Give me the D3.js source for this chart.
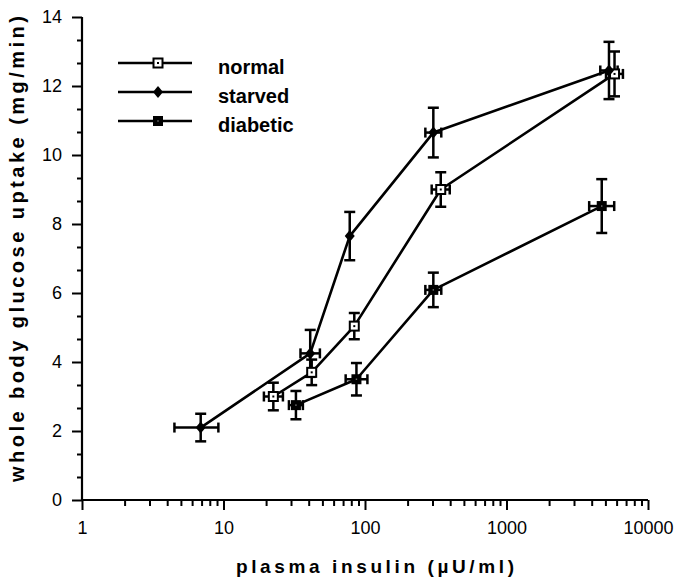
<!DOCTYPE html>
<html><head><meta charset="utf-8">
<script src="https://cdn.jsdelivr.net/npm/d3@7/dist/d3.min.js"></script>
<style>body{margin:0;background:#fff}svg{display:block}</style>
</head><body><svg id="c" width="682" height="580"></svg>
<script>
// ---- data ----
const seriesNames = ["normal", "starved", "diabetic"];
const normalX    = [22.5, 42, 84, 343, 5800];
const normalY    = [3.0, 3.7, 5.04, 9.0, 12.35];
const normalYErr = [0.4, 0.37, 0.38, 0.5, 0.65];
const normalXLo  = [19.3, 42, 84, 296, 5050];
const normalXHi  = [26.3, 42, 84, 397, 6650];

const starvedX    = [6.9, 41, 78, 304, 5300];
const starvedY    = [2.1, 4.25, 7.65, 10.65, 12.45];
const starvedYErr = [0.4, 0.68, 0.7, 0.72, 0.83];
const starvedXLo  = [4.5, 35, 78, 267, 4600];
const starvedXHi  = [9.2, 48, 78, 346, 6100];

const diabeticX    = [32.5, 87, 304, 4710];
const diabeticY    = [2.75, 3.5, 6.09, 8.52];
const diabeticYErr = [0.41, 0.47, 0.5, 0.78];
const diabeticXLo  = [29, 73, 267, 3840];
const diabeticXHi  = [36.4, 104, 346, 5770];

const xTickValues = [1, 10, 100, 1000, 10000];
const yTickValues = [0, 2, 4, 6, 8, 10, 12, 14];
const xTitle = "plasma insulin (\u00B5U/ml)";
const yTitle = "whole body glucose uptake (mg/min)";

// ---- layout ----
const svg = d3.select("#c");
const font = "'Liberation Sans', Arial, Helvetica, sans-serif";
const x = d3.scaleLog().domain([1, 10000]).range([82, 648]);
const y = d3.scaleLinear().domain([0, 14]).range([500, 17]);

function mk(xs, ys, ye, xl, xh){ return xs.map((v,i)=>({x:v,y:ys[i],ye:ye[i],xl:xl[i],xh:xh[i]})); }
const series = [
  {name:"normal", type:"open", data: mk(normalX, normalY, normalYErr, normalXLo, normalXHi)},
  {name:"starved", type:"diamond", data: mk(starvedX, starvedY, starvedYErr, starvedXLo, starvedXHi)},
  {name:"diabetic", type:"filled", data: mk(diabeticX, diabeticY, diabeticYErr, diabeticXLo, diabeticXHi)}
];

// axes
const xMinor = [];
for (let d = 1; d < 10000; d *= 10) for (let k = 2; k <= 9; k++) xMinor.push(d*k);
const xAxisMinor = d3.axisBottom(x).tickValues(xMinor).tickSize(6).tickFormat("");
const xAxis = d3.axisBottom(x).tickValues(xTickValues).tickSize(10).tickPadding(11).tickFormat(d3.format("d"));
const gx1 = svg.append("g").attr("transform","translate(0,500)").call(xAxisMinor);
const gx = svg.append("g").attr("transform","translate(0,500)").call(xAxis);
const yMinor = d3.range(0, 14.01, 2/3).filter(v => Math.abs(v/2 - Math.round(v/2)) > 0.01);
const yAxisMinor = d3.axisLeft(y).tickValues(yMinor).tickSize(5).tickFormat("");
const yAxis = d3.axisLeft(y).tickValues(yTickValues).tickSize(10).tickPadding(10).tickFormat(d3.format("d"));
const gy1 = svg.append("g").attr("transform","translate(82,0)").call(yAxisMinor);
const gy = svg.append("g").attr("transform","translate(82,0)").call(yAxis);
[gx,gx1,gy,gy1].forEach(g=>{
  g.select(".domain").attr("stroke","#000").attr("stroke-width",2.2);
  g.selectAll(".tick line").attr("stroke","#000").attr("stroke-width",2);
  g.selectAll(".tick text").attr("fill","#000").style("font-family",font).style("font-size","18px");
});
gx1.select(".domain").remove(); gy1.select(".domain").remove();
gy.select(".domain").attr("d","M0,500V17");
gx.select(".domain").attr("d","M82,0H648");

// titles
svg.append("text").attr("x",375).attr("y",573).attr("text-anchor","middle")
  .attr("textLength",278).attr("lengthAdjust","spacing")
  .style("font-family",font).style("font-size","19px").style("font-weight","bold").text(xTitle);
svg.append("text").attr("transform","translate(24,249) rotate(-90)").attr("text-anchor","middle")
  .attr("textLength",466).attr("lengthAdjust","spacing")
  .style("font-family",font).style("font-size","20px").style("font-weight","bold").text(yTitle);

// lines
const line = d3.line().x(d=>x(d.x)).y(d=>y(d.y));
const plot = svg.append("g");
series.forEach(s=>{
  plot.append("path").datum(s.data).attr("d",line).attr("fill","none")
    .attr("stroke","#000").attr("stroke-width",2.6).attr("stroke-linejoin","round");
});
// error bars
series.forEach(s=>{
  const g = plot.append("g").attr("stroke","#000").attr("stroke-width",2.5).attr("fill","none");
  s.data.forEach(d=>{
    const cx=x(d.x), t=y(d.y+d.ye), b=y(d.y-d.ye);
    g.append("line").attr("x1",cx).attr("x2",cx).attr("y1",t).attr("y2",b);
    g.append("line").attr("x1",cx-5.5).attr("x2",cx+5.5).attr("y1",t).attr("y2",t);
    g.append("line").attr("x1",cx-5.5).attr("x2",cx+5.5).attr("y1",b).attr("y2",b);
    if (d.xh > d.xl) {
      const cy=y(d.y), l=x(d.xl), r=x(d.xh);
      g.append("line").attr("x1",l).attr("x2",r).attr("y1",cy).attr("y2",cy);
      g.append("line").attr("x1",l).attr("x2",l).attr("y1",cy-5).attr("y2",cy+5);
      g.append("line").attr("x1",r).attr("x2",r).attr("y1",cy-5).attr("y2",cy+5);
    }
  });
});
function marker(g, type, cx, cy){
  if (type==="open"){
    g.append("rect").attr("x",cx-4.5).attr("y",cy-4.5).attr("width",9).attr("height",9)
      .attr("fill","#fff").attr("stroke","#000").attr("stroke-width",2);
    g.append("rect").attr("x",cx-1).attr("y",cy-1).attr("width",2).attr("height",2).attr("fill","#000");
  } else if (type==="diamond"){
    g.append("path").attr("d",`M${cx},${cy-6}L${cx+5},${cy}L${cx},${cy+6}L${cx-5},${cy}Z`).attr("fill","#000");
  } else {
    g.append("rect").attr("x",cx-5).attr("y",cy-5).attr("width",10).attr("height",10).attr("fill","#000");
    g.append("rect").attr("x",cx-0.7).attr("y",cy-0.7).attr("width",1.4).attr("height",1.4).attr("fill","#777");
  }
}
series.forEach(s=>{
  const g = plot.append("g");
  s.data.forEach(d=>marker(g, s.type, x(d.x), y(d.y)));
});

// legend
const legY = [63, 92, 121];
series.forEach((s,i)=>{
  const g = svg.append("g");
  g.append("line").attr("x1",118).attr("x2",192).attr("y1",legY[i]).attr("y2",legY[i])
    .attr("stroke","#000").attr("stroke-width",2.4);
  marker(g, s.type, 158, legY[i]);
  g.append("text").attr("x",218).attr("y",legY[i]+11).style("font-family",font)
    .style("font-size","20px").style("font-weight","bold").text(s.name);
});
</script></body></html>
